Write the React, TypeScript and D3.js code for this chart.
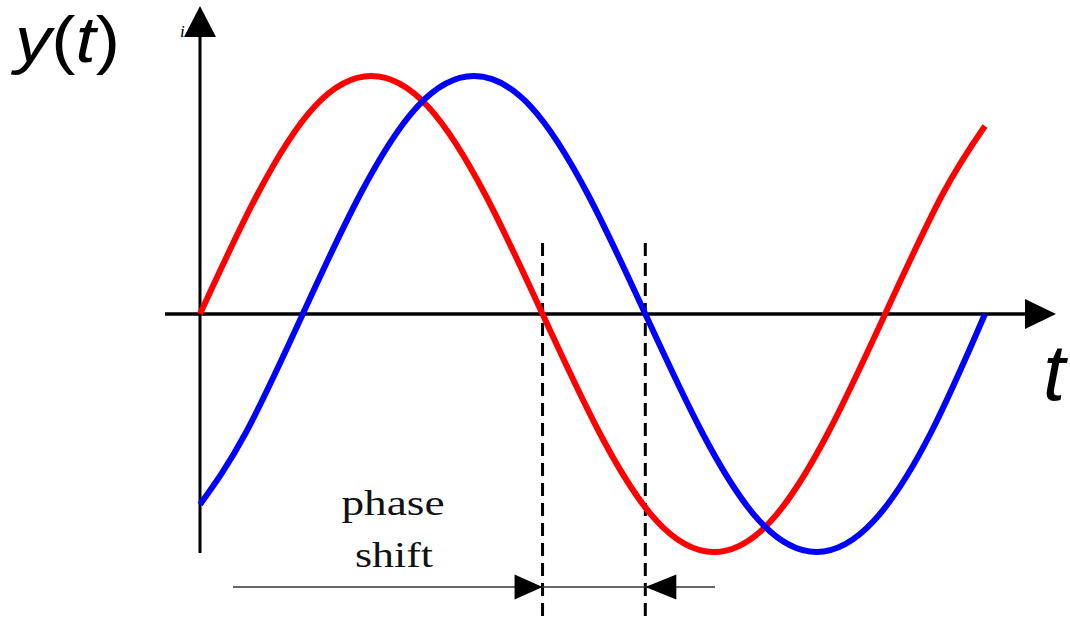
import React from "react";
import * as d3 from "d3";

// Reference signal (red): phase angle in degrees vs normalized amplitude
const redT = [0, 30, 60, 90, 120, 150, 180, 210, 240, 270, 300, 330, 360, 390, 412.5];
const redY = [0, 0.5, 0.87, 1, 0.87, 0.5, 0, -0.5, -0.87, -1, -0.87, -0.5, 0, 0.5, 0.79];

// Shifted signal (blue)
const blueT = [0, 24, 54, 84, 114, 144, 174, 204, 234, 264, 294, 324, 354, 384, 412.5];
const blueY = [-0.8, -0.5, 0, 0.5, 0.87, 1, 0.87, 0.5, 0, -0.5, -0.87, -1, -0.87, -0.5, 0];

// Phase-shift markers (zero crossings, degrees)
const markers = [180, 234];

const W = 1070;
const H = 622;

export default function App() {
  const x = d3.scaleLinear().domain([0, 412.5]).range([200, 985]);
  const y = d3.scaleLinear().domain([-1, 1]).range([552, 76]);
  const line = d3
    .line<[number, number]>()
    .x((d) => x(d[0]))
    .y((d) => y(d[1]))
    .curve(d3.curveNatural);
  const red = redT.map((t, i) => [t, redY[i]] as [number, number]);
  const blue = blueT.map((t, i) => [t, blueY[i]] as [number, number]);
  const y0 = y(0);
  const m1 = x(markers[0]);
  const m2 = x(markers[1]);
  const arrowY = 587;

  return (
    <svg
      width={W}
      height={H}
      style={{ position: "absolute", left: 0, top: 0, background: "#fff" }}
    >
      {/* axes */}
      <line x1={x(0)} x2={x(0)} y1={553} y2={34} stroke="#000" strokeWidth={3} />
      <path d={`M${x(0)},6 L${x(0) - 16},37 L${x(0) + 16},37 Z`} fill="#000" />
      <text
        x={180}
        y={37}
        fontFamily="'Liberation Serif', 'Times New Roman', serif"
        fontStyle="italic"
        fontSize={17}
      >
        i
      </text>
      <line x1={165} x2={1027} y1={y0} y2={y0} stroke="#000" strokeWidth={3.5} />
      <path d={`M1056,${y0} L1025,${y0 - 15} L1025,${y0 + 15} Z`} fill="#000" />

      {/* dashed markers */}
      {[m1, m2].map((mx, i) => (
        <line
          key={i}
          x1={mx}
          x2={mx}
          y1={243}
          y2={H}
          stroke="#000"
          strokeWidth={3}
          strokeDasharray="13,7"
        />
      ))}

      {/* curves */}
      <path d={line(red) || ""} fill="none" stroke="#ff0000" strokeWidth={6} />
      <path d={line(blue) || ""} fill="none" stroke="#0000ff" strokeWidth={6} />

      {/* phase shift arrow */}
      <line x1={233} x2={715} y1={arrowY} y2={arrowY} stroke="#333" strokeWidth={1.5} />
      <path d={`M${m1},${arrowY} L${m1 - 28},${arrowY - 12.5} L${m1 - 28},${arrowY + 12.5} Z`} fill="#000" />
      <path d={`M${m2},${arrowY} L${m2 + 31},${arrowY - 12.5} L${m2 + 31},${arrowY + 12.5} Z`} fill="#000" />

      {/* texts */}
      <text
        x={393}
        y={515}
        textAnchor="middle"
        fontFamily="'Liberation Serif', 'Times New Roman', serif"
        fontSize={35}
        textLength={103}
        lengthAdjust="spacingAndGlyphs"
        fill="#111"
      >
        phase
      </text>
      <text
        x={394}
        y={567}
        textAnchor="middle"
        fontFamily="'Liberation Serif', 'Times New Roman', serif"
        fontSize={36}
        textLength={78}
        lengthAdjust="spacingAndGlyphs"
        fill="#111"
      >
        shift
      </text>
      <text
        x={15}
        y={62}
        fontFamily="'Liberation Sans', Arial, sans-serif"
        fontSize={64}
        textLength={105}
        lengthAdjust="spacingAndGlyphs"
      >
        <tspan fontStyle="italic">y</tspan>
        <tspan>(</tspan>
        <tspan fontStyle="italic">t</tspan>
        <tspan>)</tspan>
      </text>
      <text
        x={1043}
        y={400}
        fontFamily="'Liberation Sans', Arial, sans-serif"
        fontStyle="italic"
        fontSize={80}
      >
        t
      </text>
    </svg>
  );
}
